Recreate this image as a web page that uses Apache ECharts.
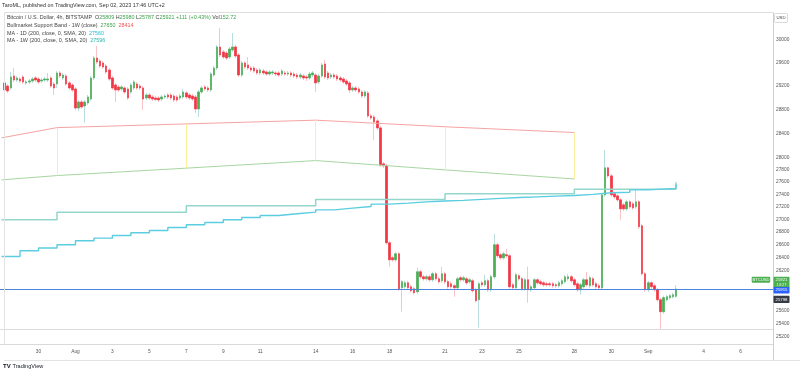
<!DOCTYPE html>
<html><head><meta charset="utf-8">
<script src="https://cdn.jsdelivr.net/npm/echarts@6/dist/echarts.min.js"></script>
<style>html,body{margin:0;padding:0;background:#fff}#c{width:800px;height:375px}</style>
</head><body><div id="c"></div>
<script>
// ---- categories: 4h bars (UTC) ----
const startTime = Date.UTC(2023, 6, 28, 0, 0);
const barCount = 251;
const firstBar = 1; // first drawn bar index

// ---- OHLC (BITSTAMP BTCUSD 4h) ----
const open = [
29253,29201,29167,29373,29304,29321,29356,29253,29270,29287,
29339,29321,29287,29304,29304,29339,29235,29235,29425,29339,
29373,29253,29218,29150,28826,28928,28860,28911,28979,29339,
29685,29633,29598,29546,29476,29339,29218,29184,29150,29167,
29150,29099,29167,29235,29201,29167,28996,29047,29013,28996,
28996,28979,29013,29047,29047,29030,29013,28996,29013,29082,
29047,29030,29013,28810,29099,29184,29167,29133,29390,29511,
29877,29789,29771,29702,29824,29877,29737,29390,29598,29563,
29511,29511,29476,29425,29459,29442,29407,29425,29425,29425,
29407,29425,29407,29425,29407,29390,29356,29373,29356,29339,
29390,29390,29270,29373,29581,29425,29356,29390,29373,29339,
29321,29287,29253,29133,29167,29150,29099,29030,29082,28692,
28675,28608,28491,27896,27863,26633,26400,26369,26462,25939,
25954,26015,25954,25924,25879,26184,26107,26076,26107,26061,
26153,26076,26046,26153,26031,26000,25970,25939,26092,26061,
26076,26031,26046,25909,25758,26015,25985,26046,25909,26107,
26602,26447,26400,26447,26431,25985,25939,26123,26076,25924,
26061,25909,25939,26061,26031,26015,26000,26000,26000,25985,
25970,26000,26031,26076,26107,26061,26000,25909,25954,26061,
25970,26076,26000,25970,25939,27393,27831,27700,27410,27377,
27313,27233,27169,27281,27249,27201,27281,26900,26153,25909,
26015,25970,25909,25758,25577,25758,25789,25804,25809];
const close = [
29133,29116,29356,29304,29339,29287,29270,29270,29287,29321,
29304,29270,29304,29321,29321,29201,29167,29425,29373,29390,
29235,29167,29133,28826,28928,28843,28928,29013,29339,29685,
29615,29546,29528,29442,29321,29167,29133,29133,29184,29099,
28996,29218,29270,29167,29167,28979,29047,28996,28979,28970,
28962,29013,29030,29013,28996,28962,28962,29030,29099,29013,
28996,28979,28810,29099,29167,29150,29133,29407,29511,29877,
29737,29702,29685,29842,29877,29720,29390,29598,29528,29511,
29476,29459,29425,29476,29425,29407,29442,29442,29407,29390,
29459,29407,29425,29390,29373,29356,29390,29339,29339,29407,
29425,29253,29373,29563,29356,29339,29390,29356,29321,29304,
29270,29235,29133,29167,29133,29099,29030,29099,28692,28658,
28592,28491,27880,27863,26633,26369,26369,26462,25924,26031,
26015,25939,25894,25864,26184,26107,26076,26107,26061,26153,
26076,26031,26153,26031,25954,25954,25939,26076,26061,26092,
26015,26061,25894,25743,26000,25985,26046,25909,26107,26602,
26431,26400,26462,26431,25954,25939,26138,26076,25924,26061,
25909,25954,26061,26015,26000,25985,25985,25985,25970,25970,
26015,26046,26107,26107,26046,25985,25909,25985,26061,25985,
26092,25985,25954,25939,27393,27831,27700,27393,27361,27313,
27169,27169,27281,27201,27185,27281,26885,26153,25909,26015,
25954,25909,25758,25577,25789,25804,25819,25834,25921];
const low = [
29099,29082,29133,29270,29270,29253,29235,29218,29235,29253,
29270,29235,29253,29270,29270,29167,29047,29167,29339,29304,
29201,29133,29099,28793,28776,28810,28575,28877,28945,29304,
29581,29511,29494,29407,29287,29133,28928,29099,29116,29064,
28962,29064,29133,29133,29133,28793,28962,28962,28945,28945,
28928,28945,28979,28979,28962,28928,28928,28962,28979,28979,
28962,28945,28743,28675,29064,29116,29099,29099,29356,29476,
29702,29667,29650,29667,29789,29685,29356,29356,29494,29476,
29442,29425,29390,29390,29390,29373,29373,29390,29373,29356,
29373,29373,29373,29356,29339,29321,29321,29304,29287,29304,
29356,29099,29235,29339,29321,29304,29321,29321,29287,29270,
29235,29201,29082,29099,29099,29064,28996,28996,28658,28625,
28291,28457,27847,27831,26602,26261,26338,26338,25894,25577,
25924,25909,25864,25834,25849,26076,26046,26046,26031,26031,
26046,26000,26015,26000,25924,25924,25804,25909,26031,26031,
25985,26000,25864,25713,25339,25954,25954,25879,25879,26076,
26400,26369,26369,26400,25924,25909,25909,26046,25894,25894,
25713,25879,25909,25985,25970,25954,25954,25954,25939,25939,
25939,25970,26000,26046,26015,25954,25879,25834,25924,25954,
25939,25954,25924,25909,25909,27361,27668,27361,27329,27281,
26995,27137,27137,27169,27153,27169,26853,26123,25879,25879,
25924,25879,25728,25309,25547,25728,25758,25774,25787];
const high = [
29304,29235,29442,29511,29373,29356,29390,29304,29321,29356,
29373,29356,29339,29356,29425,29373,29270,29459,29459,29425,
29407,29287,29253,29184,28962,28962,28962,29047,29373,29720,
29895,29667,29633,29581,29511,29373,29253,29218,29218,29201,
29184,29253,29304,29270,29235,29201,29082,29082,29047,29030,
29030,29047,29064,29082,29082,29064,29047,29064,29150,29116,
29082,29064,29047,29133,29201,29218,29201,29442,29546,29912,
30212,29824,29806,29877,30123,29912,29771,29633,29633,29702,
29546,29546,29511,29511,29494,29476,29476,29476,29459,29459,
29494,29459,29459,29459,29442,29425,29425,29407,29390,29442,
29459,29425,29407,29598,29650,29459,29425,29425,29407,29373,
29356,29321,29287,29201,29201,29184,29133,29133,29116,28726,
28709,28642,28524,27929,27896,26664,26431,26493,26493,26061,
26046,26046,25985,25954,26246,26215,26138,26138,26138,26184,
26184,26107,26261,26184,26061,26031,26000,26107,26123,26123,
26107,26092,26076,25939,26031,26046,26138,26076,26138,26774,
26633,26477,26493,26540,26462,26015,26169,26153,26107,26092,
26261,25985,26092,26092,26061,26046,26031,26031,26031,26015,
26046,26076,26138,26153,26138,26092,26031,26015,26092,26184,
26123,26107,26031,26000,27426,28126,27847,27733,27442,27410,
27345,27265,27313,27313,27281,27474,27313,26932,26184,26046,
26046,26000,25939,25789,25819,25834,25849,25864,25980];

// ---- indicators ----
const ma1dStartDay = '2023-07-28';
const ma1dValues = [26420,26509,26551,26602,26664,26706,26747,26790,26826,26874,
  26916,26953,26995,27032,27064,27090,27117,27153,27180,27206,
  27244,27260,27281,27294,27305,27321,27337,27350,27361,27372,
  27382,27401,27426,27434,27474,27490,27498];
const ma1dLast = 27560;
const lastBarTime = '2023-09-02 12:00';

const ma1wDates = ['2023-07-28 00:00','2023-07-31 00:00','2023-08-07 00:00','2023-08-14 00:00','2023-08-21 00:00','2023-08-28 00:00','2023-09-02 12:00'];
const ma1wValues = [26995,27114,27217,27318,27410,27485,27596];

const bandDates = ['2023-07-28 00:00','2023-07-31 00:00','2023-08-07 00:00','2023-08-14 00:00','2023-08-21 00:00','2023-08-28 00:00'];
const bandRed = [28325,28496,28558,28621,28510,28414];
const bandGreen = [27635,27705,27826,27950,27798,27650];

const hLineBlue = 25915;
const hLineGray = 25309;
const lastClose = 25921;
const countdown = '13:27';
const darkTagValue = 25798;

// ---- axis ticks ----
const yTickValues = [30000,29600,29200,28800,28400,28000,27800,27600,27400,27200,27000,26800,26600,26400,26200,25600,25400,25200];
const tickDates = ['2023-07-30','2023-08-01','2023-08-03','2023-08-05','2023-08-07','2023-08-09','2023-08-11','2023-08-14','2023-08-16','2023-08-18','2023-08-21','2023-08-23','2023-08-25','2023-08-28','2023-08-30','2023-09-01','2023-09-04','2023-09-06'];
const tickLabels = ['30','Aug','3','5','7','9','11','14','16','18','21','23','25','28','30','Sep','4','6'];
const yMin = 25097, yMax = 30488;

function fmt(ts){const d=new Date(ts);const p=n=>String(n).padStart(2,'0');
  return d.getUTCFullYear()+'-'+p(d.getUTCMonth()+1)+'-'+p(d.getUTCDate())+' '+p(d.getUTCHours())+':00';}
const cats=[];for(let i=0;i<barCount;i++)cats.push(fmt(startTime+i*4*3600e3));

const wickData=[], bodyData=[];
for(let i=0;i<firstBar;i++){wickData.push('-');bodyData.push('-');}
for(let k=0;k<open.length;k++){
  wickData.push([open[k],close[k],low[k],high[k]]);
  bodyData.push([open[k],close[k],Math.min(open[k],close[k]),Math.max(open[k],close[k])]);
}
const dayMs=24*3600e3, d0=Date.parse(ma1dStartDay+'T00:00:00Z');
const ma1dData=ma1dValues.map((v,i)=>[fmt(d0+i*dayMs),v]);
ma1dData.push([lastBarTime,ma1dLast]);

const FF='"Liberation Sans", Arial, sans-serif';
const chart=echarts.init(document.getElementById('c'),null,{renderer:'canvas'});
const UP='#4caf50', DN='#f23645';
const option={
  animation:false,
  backgroundColor:'#ffffff',
  grid:{left:0,right:27,top:12.5,bottom:31,containLabel:false},
  xAxis:{type:'category',data:cats,boundaryGap:true,
    axisLine:{show:true,lineStyle:{color:'#d9d9d9',width:1}},
    axisTick:{show:false},splitLine:{show:false},
    axisLabel:{interval:(idx,val)=>val.slice(11)==='00:00'&&tickDates.indexOf(val.slice(0,10))>=0,
      formatter:(val)=>tickLabels[tickDates.indexOf(val.slice(0,10))],
      fontSize:4.8,color:'#555',margin:5,fontFamily:FF}},
  yAxis:{type:'log',logBase:10,min:yMin,max:yMax,position:'right',
    axisLine:{show:false},axisTick:{show:false},splitLine:{show:false},
    axisLabel:{customValues:yTickValues,fontSize:4.8,color:'#555',margin:3,fontFamily:FF,
      formatter:(v)=>String(Math.round(v))}},
  series:[
    {type:'line',name:'gray',data:[],silent:true,
      markLine:{silent:true,symbol:['none','none'],label:{show:false},
        lineStyle:{color:'#dcdcdc',width:1,type:'solid'},data:[{yAxis:hLineGray}]}},
    {type:'line',name:'bandRed',data:bandDates.map((d,i)=>[d,bandRed[i]]),symbol:'none',silent:true,
      lineStyle:{color:'#f6a3a3',width:1},
      markLine:{silent:true,symbol:['none','none'],label:{show:false},
        lineStyle:{color:'#fbef9a',width:1,type:'solid'},
        data:bandDates.slice(1).map((d,i)=>[{coord:[d,bandRed[i+1]]},{coord:[d,bandGreen[i+1]]}])}},
    {type:'line',name:'bandGreen',data:bandDates.map((d,i)=>[d,bandGreen[i]]),symbol:'none',silent:true,
      lineStyle:{color:'#a6d7a0',width:1}},
    {type:'line',name:'ma1w',data:ma1wDates.map((d,i)=>[d,ma1wValues[i]]),step:'end',symbol:'none',silent:true,
      lineStyle:{color:'#93d6cb',width:1.5}},
    {type:'line',name:'ma1d',data:ma1dData,step:'end',symbol:'none',silent:true,
      lineStyle:{color:'#5ccde0',width:1.4}},
    {type:'candlestick',name:'wick',data:wickData,barWidth:2,silent:true,
      itemStyle:{color:'#b9dde0',color0:'#f9c3c7',borderColor:'#b9dde0',borderColor0:'#f9c3c7',borderWidth:1}},
    {type:'candlestick',name:'body',data:bodyData,barWidth:2,silent:true,
      itemStyle:{color:UP,color0:DN,borderColor:UP,borderColor0:DN,borderWidth:0.6}},
    {type:'line',name:'blue',data:[],silent:true,z:5,color:'#4a86e0',
      markLine:{silent:true,symbol:['none','none'],label:{show:false},
        lineStyle:{color:'#4a86e0',width:1.2,type:'solid'},data:[{yAxis:hLineBlue}]}}
  ]
};
chart.setOption(option);

// ---- static UI + tags ----
const yC=chart.convertToPixel({yAxisIndex:0},lastClose);
const yB=chart.convertToPixel({yAxisIndex:0},hLineBlue);
const yD=chart.convertToPixel({yAxisIndex:0},darkTagValue);
function txt(x,y,text,fs,fill,align){return {type:'text',x:x,y:y,silent:true,z:100,
  style:{text:text,fill:fill,fontSize:fs,fontFamily:FF,textAlign:align||'left',align:align||'left',textVerticalAlign:'middle',verticalAlign:'middle'}};}
function line(x1,y1,x2,y2,c){return {type:'line',silent:true,z:90,shape:{x1,y1,x2,y2},style:{stroke:c,lineWidth:1}};}
const G='#4caf50';
const legendRich={t:{fill:'#444',fontSize:5.4,fontFamily:FF},g:{fill:'#3fa34d',fontSize:5.4,fontFamily:FF},
  r:{fill:'#ef5350',fontSize:5.4,fontFamily:FF},c:{fill:'#22bcd4',fontSize:5.4,fontFamily:FF},
  tl:{fill:'#2bb3aa',fontSize:5.4,fontFamily:FF}};
function rtxt(x,y,text){return {type:'text',x:x,y:y,silent:true,z:100,style:{text:text,rich:legendRich,fill:'#444',fontSize:5.4,fontFamily:FF,textVerticalAlign:'middle',verticalAlign:'middle'}};}
const graphics=[
  txt(2,6,'TaroML, published on TradingView.com, Sep 02, 2023 17:46 UTC+2',5.4,'#333'),
  line(4,12.5,773,12.5,'#dedede'),
  line(4.5,12.5,4.5,344,'#e3e3e3'),
  line(773.5,12.5,773.5,360,'#cfcfcf'),
  line(4,360.5,800,360.5,'#e3e3e3'),
  {type:'rect',silent:true,z:100,shape:{x:774.5,y:13.5,width:13,height:9,r:1},style:{fill:'#fff',stroke:'#d0d0d0',lineWidth:0.8}},
  txt(781,18,'USD',4.3,'#444','center'),
  rtxt(7,17.3,'{t|Bitcoin / U.S. Dollar, 4h, BITSTAMP  O}{g|25809}{t| H}{g|25980}{t| L}{g|25787}{t| C}{g|25921}{g| +111 (+0.43%)}{t| Vol}{g|152.72}'),
  rtxt(7,25.2,'{t|Bullmarket Support Band - 1W (close)  }{g|27650}{t|  }{r|28414}'),
  rtxt(7,33.2,'{t|MA - 1D (200, close, 0, SMA, 20)  }{c|27560}'),
  rtxt(7,41,'{t|MA - 1W (200, close, 0, SMA, 20)  }{tl|27596}'),
  // tags
  {type:'rect',silent:true,z:100,shape:{x:751.7,y:yC-12.3,width:18.5,height:6,r:0.8},style:{fill:G}},
  txt(761,yC-9.3,'BTCUSD',4.2,'#fff','center'),
  {type:'rect',silent:true,z:100,shape:{x:773.5,y:yC-12.3,width:16,height:11.6,r:0.8},style:{fill:G}},
  txt(781.5,yC-9.3,String(lastClose),4.3,'#fff','center'),
  txt(781.5,yC-3.8,countdown,4.0,'#e8f5e9','center'),
  {type:'rect',silent:true,z:100,shape:{x:773.5,y:yB-2.4,width:16,height:6.6,r:0.8},style:{fill:'#2962ff'}},
  txt(781.5,yB+0.9,String(hLineBlue),4.3,'#fff','center'),
  {type:'rect',silent:true,z:100,shape:{x:773.5,y:yD-1.3,width:16,height:7.2,r:0.8},style:{fill:'#363a45'}},
  txt(781.5,yD+2.3,String(darkTagValue),4.3,'#fff','center'),
  {type:'text',x:3,y:366.5,silent:true,z:100,style:{text:'TV',fill:'#131722',fontSize:6,fontWeight:'bold',fontFamily:FF,textVerticalAlign:'middle',verticalAlign:'middle'}},
  txt(12.5,366.5,'TradingView',5.6,'#131722')
];
chart.setOption({graphic:{elements:graphics}});
</script>
</body></html>
